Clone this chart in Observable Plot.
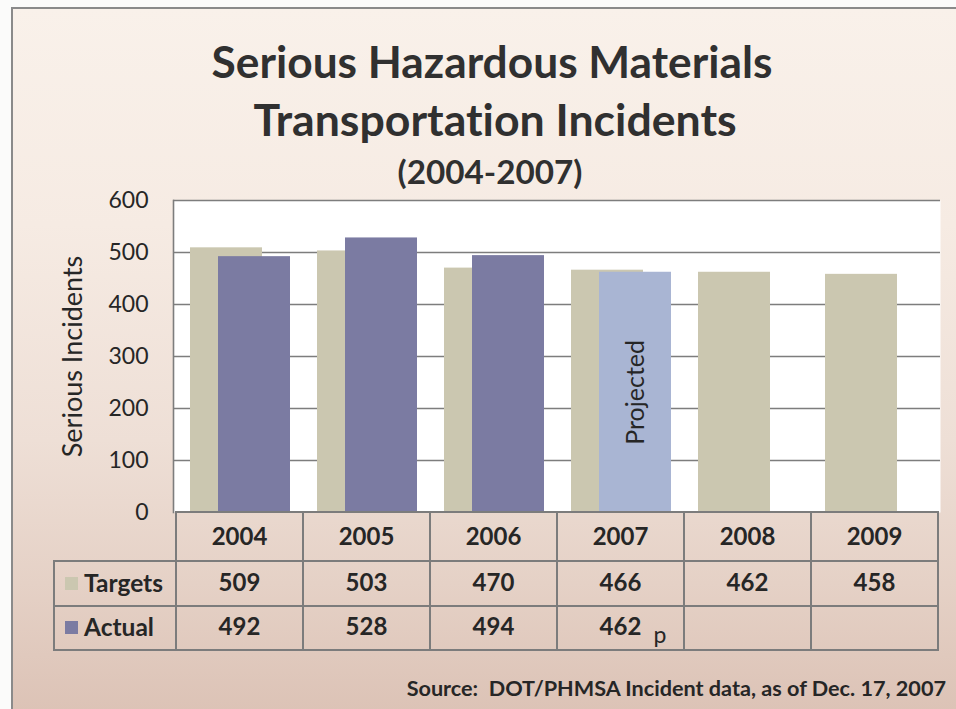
<!DOCTYPE html>
<html>
<head>
<meta charset="utf-8">
<script src="https://cdn.jsdelivr.net/npm/d3@7"></script>
<script src="https://cdn.jsdelivr.net/npm/@observablehq/plot@0.6"></script>
<style>
  html, body { margin: 0; padding: 0; background: #fbfbfa; }
  #page { position: relative; width: 956px; height: 709px; overflow: hidden; font-family: Lato, "Open Sans", sans-serif; color: #262626; font-variant-ligatures: none; }
  #frame { position: absolute; left: 11px; top: 7px; width: 980px; height: 720px; box-sizing: border-box;
           border-left: 2px solid #8a8a8a; border-top: 2px solid #8a8a8a;
           background: linear-gradient(to bottom, #f9f1ea 0%, #f6ebe3 30%, #eedfd6 60%, #e5d1c6 80%, #dbc1b4 100%); }
  .t { position: absolute; white-space: nowrap; line-height: 1.2; font-variant-ligatures: none; }
  .hl { position: absolute; height: 2px; background: #7c7c7c; }
  .vl { position: absolute; width: 2px; background: #7c7c7c; }
  #chart { position: absolute; left: 0; top: 179px; }
  #chart svg text { font-variant-ligatures: none; }
</style>
</head>
<body>
<div id="page">
  <div id="frame"></div>
  <div id="chart"></div>
</div>
<script>
// ---- data ----
const years    = ["2004", "2005", "2006", "2007", "2008", "2009"];
const targets  = [509, 503, 470, 466, 462, 458];
const actual   = [492, 528, 494, 462, null, null];
const status   = ["Actual", "Actual", "Actual", "Projected", null, null];
const yTicks   = [0, 100, 200, 300, 400, 500, 600];
const yLabel   = "Serious Incidents";
const seriesNames = ["Targets", "Actual"];
const titleLines = ["Serious Hazardous Materials", "Transportation Incidents", "(2004-2007)"];
const sourceText = "Source:\u00a0 DOT/PHMSA Incident data, as of Dec. 17, 2007";

const colTarget = "#cbc7b0", colActual = "#7b7ba2", colProjected = "#a9b5d3";

const data = years.map((year, i) => ({year, target: targets[i], actual: actual[i], status: status[i]}));

const page = document.getElementById("page");
const ctx = document.createElement("canvas").getContext("2d");
function fitSize(text, weight, family, width) {
  ctx.font = `${weight} 100px ${family}`;
  return 100 * width / ctx.measureText(text).width;
}
// place text by baseline (Lato ascent ~0.987em with line-height 1.2)
function placeText(text, {x, baseline, size, weight = 400, anchor = "middle", fitWidth = null, color = "#262626"}) {
  const fam = "Lato";
  if (fitWidth) size = fitSize(text, weight, fam, fitWidth);
  const d = document.createElement("div");
  d.className = "t";
  d.textContent = text;
  d.style.fontSize = size + "px";
  d.style.fontWeight = weight;
  d.style.color = color;
  d.style.top = (baseline - 0.987 * size) + "px";
  if (anchor === "middle") { d.style.left = x + "px"; d.style.transform = "translateX(-50%)"; }
  else if (anchor === "end") { d.style.right = (956 - x) + "px"; }
  else d.style.left = x + "px";
  page.appendChild(d);
  return d;
}

// ---- title ----
placeText(titleLines[0], {x: 492, baseline: 78, weight: 700, fitWidth: 561, color: "#303030"});
placeText(titleLines[1], {x: 495, baseline: 137, weight: 700, fitWidth: 484, color: "#303030"});
placeText(titleLines[2], {x: 490, baseline: 185, weight: 700, fitWidth: 185, color: "#303030"});

// ---- chart ----
const plot = Plot.plot({
  width: 956,
  height: 353,
  marginLeft: 173,
  marginRight: 16,
  marginTop: 21,
  marginBottom: 20,
  style: {background: "transparent", fontFamily: "Lato, sans-serif", color: "#262626"},
  x: {domain: years, padding: 0, axis: null},
  y: {domain: [0, 600], axis: null},
  color: {type: "identity"},
  marks: [
    Plot.frame({fill: "white", stroke: null}),
    Plot.gridY(yTicks.filter(t => t > 0), {stroke: "#7d7d7d", strokeOpacity: 1, strokeWidth: 1.6}),
    Plot.frame({anchor: "left", stroke: "#7d7d7d", strokeWidth: 1.6}),
    Plot.barY(data, {x: "year", y: "target", fill: colTarget, insetLeft: 14, insetRight: 41}),
    Plot.barY(data.filter(d => d.actual != null), {
      x: "year", y: "actual",
      fill: d => d.status === "Projected" ? colProjected : colActual,
      insetLeft: 42, insetRight: 13
    }),
    Plot.text(data.filter(d => d.status === "Projected"), {
      x: "year", y: d => d.actual / 2, text: "status", rotate: -90, dx: 14.5,
      fontSize: 25, fill: "#262626"
    }),
    Plot.axisY({ticks: yTicks, tickSize: 0, tickPadding: 25, fontSize: 23, label: null}),
    Plot.text([yLabel], {
      frameAnchor: "left", rotate: -90, dx: -100, fontSize: 27,
      textAnchor: "middle", lineAnchor: "middle", fill: "#262626"
    })
  ]
});
document.getElementById("chart").appendChild(plot);

// ---- data table (legend) below the chart ----
const xs = plot.scale("x");
const bw = xs.bandwidth;
const colLeft = years.map(y => xs.apply(y));
const tableRight = colLeft[colLeft.length - 1] + bw;
const legendLeft = 54;
const frameLeft = colLeft[0];
const rowTops = [512, 561, 606, 650];

function hline(x1, x2, y) {
  const d = document.createElement("div"); d.className = "hl";
  d.style.left = (x1 - 1) + "px"; d.style.width = (x2 - x1 + 2) + "px"; d.style.top = (y - 1) + "px";
  page.appendChild(d);
}
function vline(x, y1, y2) {
  const d = document.createElement("div"); d.className = "vl";
  d.style.left = (x - 1) + "px"; d.style.top = (y1 - 1) + "px"; d.style.height = (y2 - y1 + 2) + "px";
  page.appendChild(d);
}
hline(frameLeft, tableRight, rowTops[0]);
hline(legendLeft, tableRight, rowTops[1]);
hline(legendLeft, tableRight, rowTops[2]);
hline(legendLeft, tableRight, rowTops[3]);
vline(legendLeft, rowTops[1], rowTops[3]);
vline(frameLeft, rowTops[0], rowTops[3]);
colLeft.forEach(x => vline(x + bw, rowTops[0], rowTops[3]));

const rowBase = [546, 592, 636];
years.forEach((y, i) => {
  const cx = colLeft[i] + bw / 2;
  placeText(y, {x: cx, baseline: rowBase[0], size: 24, weight: 700});
  placeText(String(targets[i]), {x: cx, baseline: rowBase[1], size: 24, weight: 700});
  if (actual[i] != null) {
    placeText(String(actual[i]), {x: cx, baseline: rowBase[2], size: 24, weight: 700});
    if (status[i] === "Projected") placeText("p", {x: cx + 33, baseline: 644, size: 23, weight: 400, anchor: "start"});
  }
});
// legend cells
[colTarget, colActual].forEach((c, i) => {
  const sw = document.createElement("div");
  sw.style.cssText = `position:absolute;left:65px;width:13px;height:13px;background:${c};top:${rowBase[i + 1] - 15}px`;
  page.appendChild(sw);
  placeText(seriesNames[i], {x: 84, baseline: rowBase[i + 1], size: 24.5, weight: 700, anchor: "start"});
});

// ---- source ----
placeText(sourceText, {x: 946, baseline: 697, weight: 700, fitWidth: 541, anchor: "end"});
</script>
</body>
</html>
